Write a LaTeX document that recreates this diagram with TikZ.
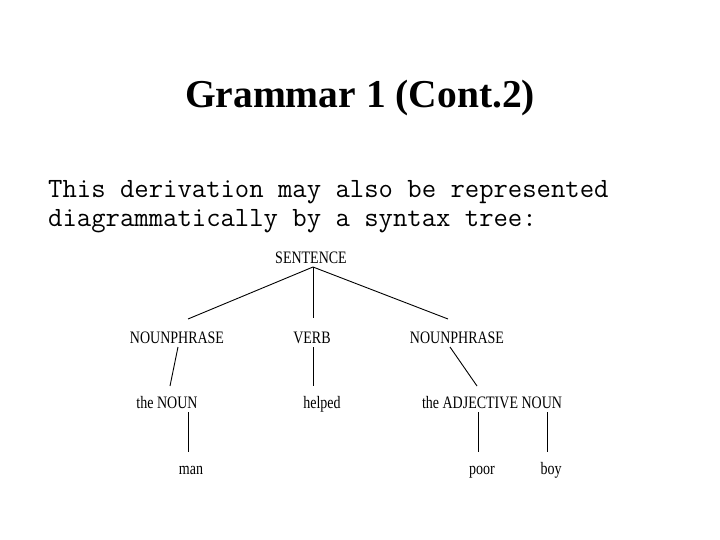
\documentclass[tikz,border=0pt]{standalone}
\usepackage{fontspec}
\setmainfont{Liberation Serif}
\usepackage{tikz}
\usetikzlibrary{positioning}

\newcommand{\tlab}[1]{\scalebox{0.8}[1]{#1}}
\tikzset{
  tree/.style={anchor=base,inner sep=0pt,font=\fontsize{17.5}{17.5}\selectfont},
  prose/.style={anchor=base west,inner sep=0pt,font=\ttfamily\fontsize{27.9}{29}\selectfont},
  edge/.style={line width=0.9pt}
}

\begin{document}
\begin{tikzpicture}[x=1pt,y=-1pt]
  \useasboundingbox[fill=white] (0,0) rectangle (720,540);
  % heading and text
  \node[anchor=base,inner sep=0pt,font=\bfseries\fontsize{39.5}{40}\selectfont] (title) at (360,108) {Grammar 1 (Cont.2)};
  \node[prose] (line1) at (48,197) {This derivation may also be represented};
  \node[prose] (line2) at (48,226) {diagrammatically by a syntax tree:};

  % the tree
  \node[tree] (sent) at (311,263) {\tlab{SENTENCE}};
  \node[tree] (np1) at (177,343) {\tlab{NOUNPHRASE}};
  \node[tree] (verb) at (312,343) {\tlab{VERB}};
  \node[tree] (np2) at (457,343) {\tlab{NOUNPHRASE}};
  \node[tree] (thenoun) at (167,408) {\tlab{the NOUN}};
  \node[tree] (helped) at (322,408) {\tlab{helped}};
  \node[tree] (adjnoun) at (492,408) {\tlab{the ADJECTIVE NOUN}};
  \node[tree] (man) at (191,474) {\tlab{man}};
  \node[tree] (poor) at (482,474) {\tlab{poor}};
  \node[tree] (boy) at (551,474) {\tlab{boy}};

  \draw[edge] ([xshift=2pt,yshift=-4pt]sent.base) -- ([xshift=11pt,yshift=24pt]np1.base);
  \draw[edge] ([xshift=2pt,yshift=-4pt]sent.base) -- ([xshift=1pt,yshift=25pt]verb.base);
  \draw[edge] ([xshift=2pt,yshift=-4pt]sent.base) -- ([xshift=-9pt,yshift=24pt]np2.base);
  \draw[edge] ([xshift=1pt,yshift=-4pt]np1.base) -- ([xshift=3pt,yshift=22pt]thenoun.base);
  \draw[edge] ([xshift=1pt,yshift=-4pt]verb.base) -- ([xshift=-9pt,yshift=22pt]helped.base);
  \draw[edge] ([xshift=-7pt,yshift=-4pt]np2.base) -- ([xshift=-15pt,yshift=22pt]adjnoun.base);
  \draw[edge] ([xshift=21pt,yshift=-4pt]thenoun.base) -- ([xshift=-3pt,yshift=22pt]man.base);
  \draw[edge] ([xshift=-14pt,yshift=-4pt]adjnoun.base) -- ([xshift=-4pt,yshift=22pt]poor.base);
  \draw[edge] ([xshift=55pt,yshift=-4pt]adjnoun.base) -- ([xshift=-4pt,yshift=22pt]boy.base);
\end{tikzpicture}
\end{document}
